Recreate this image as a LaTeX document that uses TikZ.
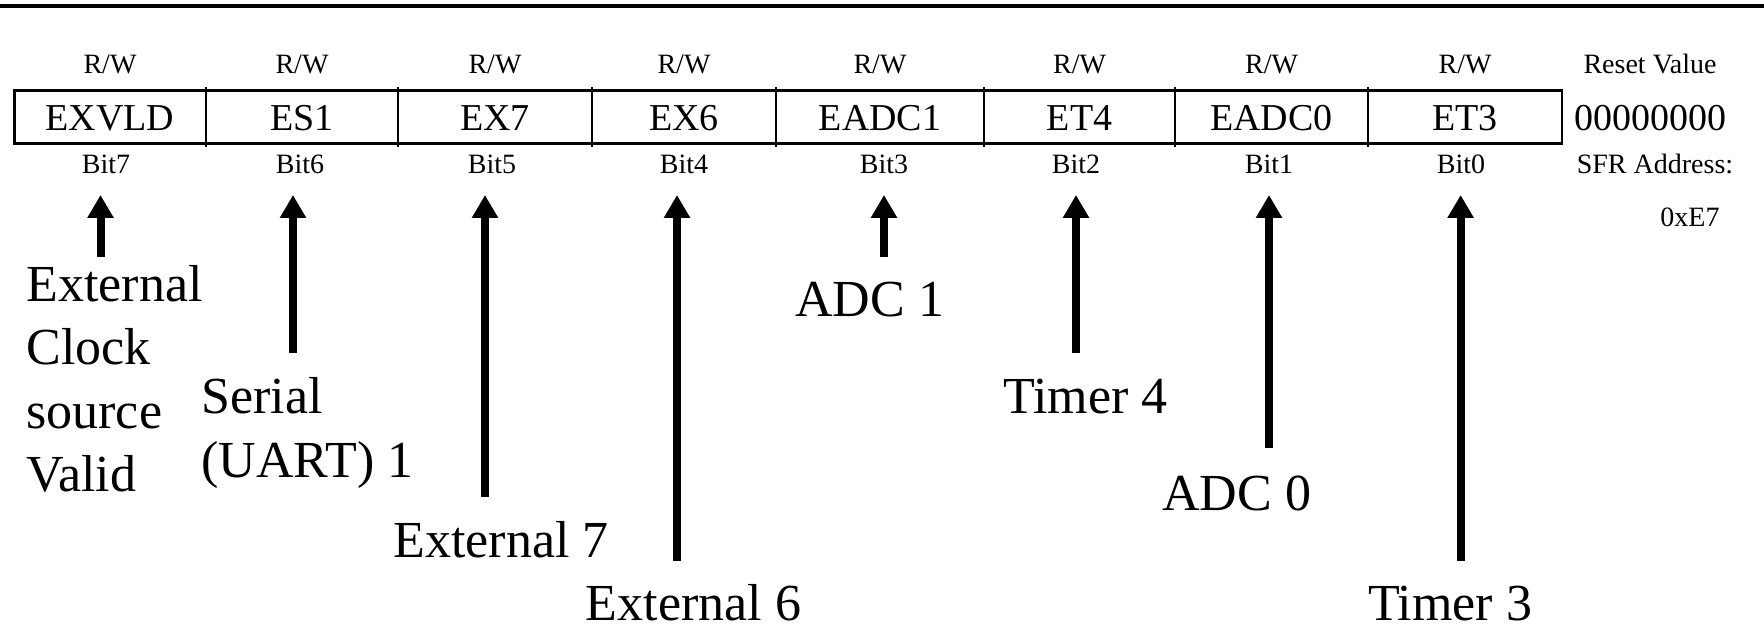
\documentclass[tikz,border=0pt]{standalone}
\usepackage{fontspec}
\setmainfont{Liberation Serif}
\usetikzlibrary{arrows.meta}
\begin{document}
\begin{tikzpicture}[x=0.5pt,y=-0.5pt]
\tikzset{
  cell/.style={inner sep=0pt,anchor=base,font=\fontsize{19}{19}\selectfont},
  small/.style={inner sep=0pt,anchor=base,font=\fontsize{14}{14}\selectfont},
  desc/.style={inner sep=0pt,anchor=base west,align=left,font=\fontsize{26}{31.7}\selectfont},
  pointer/.style={line width=4pt,-{Triangle[width=12.5pt,length=11.5pt]}},
}
\useasboundingbox (0,0) rectangle (1764,625);

        %TOP RULE
        \draw[line width=1.8pt] (0,6) -- (1764,6);

        %REGISTER BOX
        \draw[line width=1.3pt] (14.5,90.7) rectangle (1562,143.3);
        \foreach \x in {206,398,592,776,984,1175,1368}
          \draw[line width=1.3pt] (\x,87) -- (\x,147);

        %FIELDS
        \node[cell] (exvld) at (110,130.7) {EXVLD};
        \node[cell] (es1)   at (302,130.7) {ES1};
        \node[cell] (ex7)   at (495,130.7) {EX7};
        \node[cell] (ex6)   at (684,130.7) {EX6};
        \node[cell] (eadc1) at (880,130.7) {EADC1};
        \node[cell] (et4)   at (1079.5,130.7) {ET4};
        \node[cell] (eadc0) at (1271.5,130.7) {EADC0};
        \node[cell] (et3)   at (1465,130.7) {ET3};

        %ACCESS
        \node[small] (rw7) at (110,73.3) {R/W};
        \node[small] (rw6) at (302,73.3) {R/W};
        \node[small] (rw5) at (495,73.3) {R/W};
        \node[small] (rw4) at (684,73.3) {R/W};
        \node[small] (rw3) at (880,73.3) {R/W};
        \node[small] (rw2) at (1079.5,73.3) {R/W};
        \node[small] (rw1) at (1271.5,73.3) {R/W};
        \node[small] (rw0) at (1465,73.3) {R/W};

        %BIT NUMBERS
        \node[small] (bit7) at (106,173.3) {Bit7};
        \node[small] (bit6) at (300,173.3) {Bit6};
        \node[small] (bit5) at (492,173.3) {Bit5};
        \node[small] (bit4) at (684,173.3) {Bit4};
        \node[small] (bit3) at (884,173.3) {Bit3};
        \node[small] (bit2) at (1076,173.3) {Bit2};
        \node[small] (bit1) at (1269,173.3) {Bit1};
        \node[small] (bit0) at (1461,173.3) {Bit0};

        %RESET / ADDRESS
        \node[small] (rstlbl) at (1650,73.3) {Reset Value};
        \node[cell]  (rstval) at (1650,130.7) {00000000};
        \node[small] (sfrlbl) at (1655,173.3) {SFR Address:};
        \node[small] (sfrval) at (1690,226.7) {0xE7};

        %DESCRIPTIONS (base = last line)
        \node[desc] (dext) at (26,491.7) {External\\Clock\\source\\Valid};
        \node[desc] (dser) at (201,477) {Serial\\(UART) 1};
        \node[desc] (dex7) at (393,557) {External 7};
        \node[desc] (dex6) at (585.5,620) {External 6};
        \node[desc] (dad1) at (795,316.7) {ADC 1};
        \node[desc] (dtm4) at (1003,413) {Timer 4};
        \node[desc] (dad0) at (1162,510) {ADC 0};
        \node[desc] (dtm3) at (1367.6,620) {Timer 3};

        %POINTERS
        \coordinate (f7) at (100.5,256.7);
        \coordinate (f6) at (293,352.7);
        \coordinate (f5) at (485,496.7);
        \coordinate (f4) at (677,560.7);
        \coordinate (f3) at (884,256.7);
        \coordinate (f2) at (1076,352.7);
        \coordinate (f1) at (1269,448);
        \coordinate (f0) at (1460.6,560.7);

        \draw[pointer] (f7) -- (f7 |- 0,195);
        \draw[pointer] (f6) -- (f6 |- 0,195);
        \draw[pointer] (f5) -- (f5 |- 0,195);
        \draw[pointer] (f4) -- (f4 |- 0,195);
        \draw[pointer] (f3) -- (f3 |- 0,195);
        \draw[pointer] (f2) -- (f2 |- 0,195);
        \draw[pointer] (f1) -- (f1 |- 0,195);
        \draw[pointer] (f0) -- (f0 |- 0,195);
\end{tikzpicture}
\end{document}
